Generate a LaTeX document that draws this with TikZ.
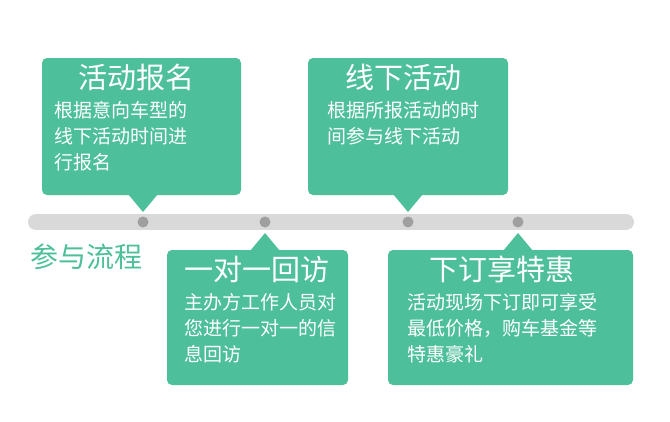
\documentclass[tikz,border=0pt]{standalone}
\usepackage{fontspec}
\setmainfont{Noto Sans CJK SC}
\begin{document}
\begin{tikzpicture}[x=1pt,y=-1pt,
  box/.style={fill=teal1,rounded corners=5pt},
  dot/.style={circle,fill=gray!75,inner sep=0pt,minimum size=11pt},
  ttl/.style={text=white,font=\fontsize{29}{32}\selectfont,anchor=north west,inner sep=0pt},
  bdy/.style={text=white,font=\fontsize{19}{26}\selectfont,anchor=north west,inner sep=0pt,align=left}]
\definecolor{teal1}{HTML}{4DBF9A}
\useasboundingbox[fill=white] (0,0) rectangle (670,421);
\draw[line width=16pt,gray!30,line cap=round] (36,222) -- (626,222);
\fill[box] (42,58) rectangle (241,195);
\fill[teal1] (128,194) -- (143,212) -- (158,194) -- cycle;
\fill[box] (308,58) rectangle (508,195);
\fill[teal1] (393,194) -- (408,212) -- (423,194) -- cycle;
\fill[box] (167,250) rectangle (348,385);
\fill[teal1] (250,251) -- (265,233) -- (280,251) -- cycle;
\fill[box] (388,250) rectangle (633,385);
\fill[teal1] (503,251) -- (518,233) -- (533,251) -- cycle;
\node[dot] (d1) at (143,222) {};
\node[dot] (d2) at (265,222) {};
\node[dot] (d3) at (408,222) {};
\node[dot] (d4) at (518,222) {};
\node[text=teal1,font=\fontsize{28}{30}\selectfont,anchor=west,inner sep=0pt] (lab) at (30,257) {参与流程};
\node[ttl] (t1) at (78,64) {活动报名};
\node[bdy] (b1) at (54,101) {根据意向车型的\\线下活动时间进\\行报名};
\node[ttl] (t2) at (345,64) {线下活动};
\node[bdy] (b2) at (327,101) {根据所报活动的时\\间参与线下活动};
\node[ttl] (t3) at (184,256) {一对一回访};
\node[bdy] (b3) at (184,293) {主办方工作人员对\\您进行一对一的信\\息回访};
\node[ttl] (t4) at (429,256) {下订享特惠};
\node[bdy] (b4) at (407,293) {活动现场下订即可享受\\最低价格，购车基金等\\特惠豪礼};
\end{tikzpicture}
\end{document}
